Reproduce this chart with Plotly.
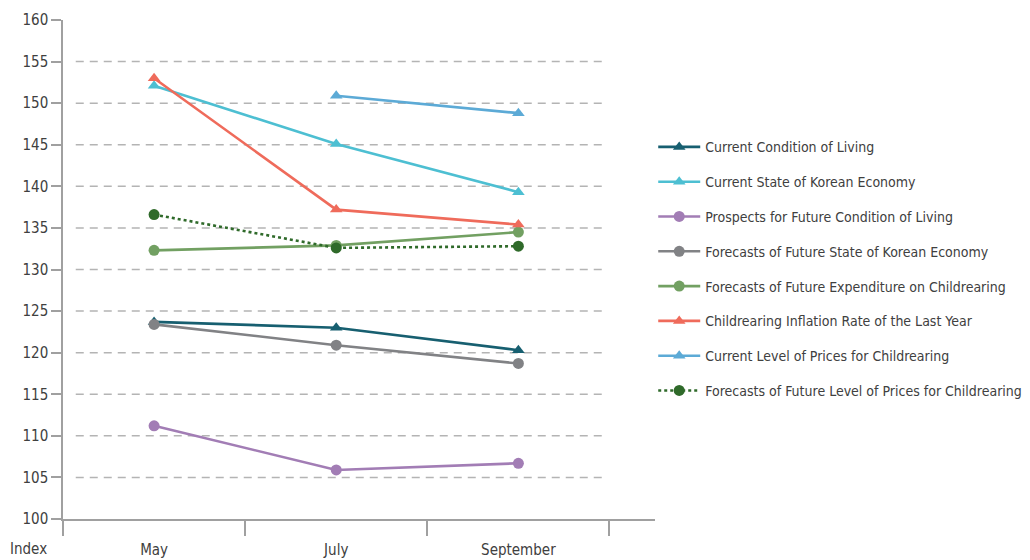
import plotly.graph_objects as go

months = ["May", "July", "September"]
y_ticks = [100, 105, 110, 115, 120, 125, 130, 135, 140, 145, 150, 155, 160]
grid_vals = [105, 110, 115, 120, 125, 130, 135, 140, 145, 150, 155]

names = [
    "Current Condition of Living",
    "Current State of Korean Economy",
    "Prospects for Future Condition of Living",
    "Forecasts of Future State of Korean Economy",
    "Forecasts of Future Expenditure on Childrearing",
    "Childrearing Inflation Rate of the Last Year",
    "Current Level of Prices for Childrearing",
    "Forecasts of Future Level of Prices for Childrearing",
]
current_condition = [123.7, 123.0, 120.3]
current_state_economy = [152.1, 145.1, 139.3]
prospects_condition = [111.2, 105.9, 106.7]
forecast_state_economy = [123.4, 120.9, 118.7]
forecast_expenditure = [132.3, 132.9, 134.5]
inflation_last_year = [153.0, 137.2, 135.4]
current_level_prices = [None, 150.9, 148.8]
forecast_level_prices = [136.6, 132.6, 132.8]

series = [current_condition, current_state_economy, prospects_condition,
          forecast_state_economy, forecast_expenditure, inflation_last_year,
          current_level_prices, forecast_level_prices]
colors = ["#175f70", "#4dbfd2", "#a27db5", "#818285", "#72a062", "#ef6b5b",
          "#5caad6", "#2f6a2a"]
symbols = ["triangle-up", "triangle-up", "circle", "circle", "circle",
           "triangle-up", "triangle-up", "circle"]
dashes = ["solid"] * 7 + ["dot"]

FONT = "DejaVu Sans Condensed, Liberation Sans Narrow, sans-serif"
TXT = "#404040"

fig = go.Figure()

for i, (nm, vals) in enumerate(zip(names, series)):
    fig.add_trace(go.Scatter(
        x=months, y=vals, name=nm, mode="lines+markers",
        line=dict(color=colors[i], width=2.6, dash=dashes[i]),
        marker=dict(symbol=symbols[i], size=11, color=colors[i]),
        legendgroup=f"g{i}", connectgaps=False,
    ))

for v in grid_vals:
    fig.add_shape(type="line", xref="x", yref="y", x0=-0.43, x1=2.48, y0=v, y1=v,
                  line=dict(color="#b4b4b4", width=1.5, dash="8px,6px"), layer="below")

fig.update_layout(
    width=1030, height=560,
    margin=dict(l=63, r=375, t=20, b=41, autoexpand=False),
    paper_bgcolor="white", plot_bgcolor="white",
    font=dict(family=FONT, size=14, color=TXT),
    showlegend=True,
    legend=dict(x=0.997, xanchor="left", y=0.777, yanchor="top",
                itemwidth=42,
                font=dict(family=FONT, size=14, color=TXT),
                tracegroupgap=13.6, bgcolor="rgba(0,0,0,0)"),
    annotations=[dict(text="Index", xref="paper", yref="paper", x=-0.059, y=-0.061,
                      xanchor="center", yanchor="middle", showarrow=False,
                      font=dict(family=FONT, size=15, color=TXT))],
)

fig.update_xaxes(
    type="category", range=[-0.5, 2.75], showgrid=False, zeroline=False,
    showline=True, linecolor="#a0a0a0", linewidth=1.5,
    ticks="outside", tickson="boundaries", ticklen=15, tickcolor="#a0a0a0", tickwidth=1.5,
    ticklabelstandoff=16,
    tickfont=dict(family=FONT, size=15, color=TXT),
)
fig.update_yaxes(
    range=[100, 160], tickvals=y_ticks, showgrid=False, zeroline=False,
    showline=True, linecolor="#a0a0a0", linewidth=1.5,
    ticks="outside", ticklen=10, tickcolor="#a0a0a0", tickwidth=1.5,
    tickfont=dict(family=FONT, size=15, color=TXT),
)

fig.write_html("out.html")
